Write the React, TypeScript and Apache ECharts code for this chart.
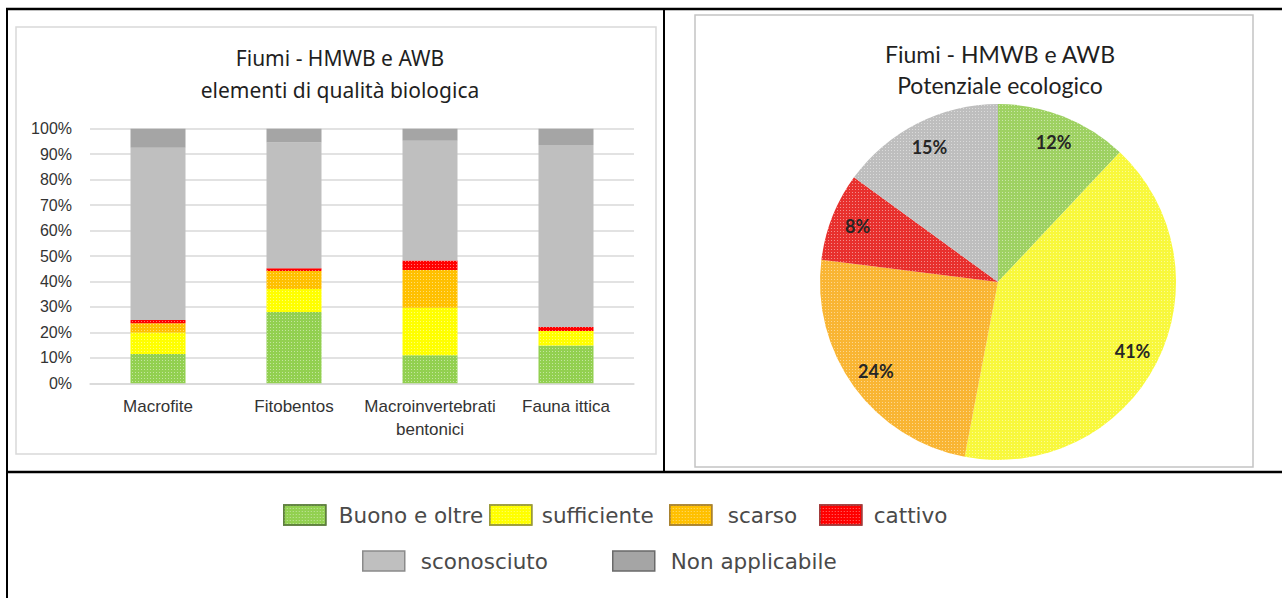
import React, { useEffect, useRef } from "react";
import * as echarts from "echarts";

// ---- Data ----
const categories = ["Macrofite", "Fitobentos", "Macroinvertebrati\nbentonici", "Fauna ittica"];
const seriesNames = ["Buono e oltre", "sufficiente", "scarso", "cattivo", "sconosciuto", "Non applicabile"];
const buono = [11.5, 28, 11, 14.8];
const sufficiente = [8.5, 9, 18.7, 5.7];
const scarso = [3.6, 7.1, 14.8, 0];
const cattivo = [1.3, 1.1, 3.7, 1.6];
const sconosciuto = [67.6, 49.4, 47.1, 71.5];
const nonApplicabile = [7.5, 5.4, 4.7, 6.4];
const barValues = [buono, sufficiente, scarso, cattivo, sconosciuto, nonApplicabile];

const yMin = 0;
const yMax = 100;
const yInterval = 10;

const pieNames = ["Buono e oltre", "sufficiente", "scarso", "cattivo", "sconosciuto"];
const pieValues = [12, 41, 24, 8, 15];

const barTitle = "Fiumi - HMWB e AWB\nelementi di qualità biologica";
const pieTitle = "Fiumi - HMWB e AWB\nPotenziale ecologico";

// ---- Styles ----
const barColors = ["#92D050", "#FFFF00", "#FFC000", "#FF0000", "#BFBFBF", "#A5A5A5"];
const pieColors = ["#9ED162", "#F8F83C", "#F9B533", "#E8302D", "#BEBEBE"];
const legendBorders = ["#5E7F3E", "#9A9A3A", "#A9822F", "#A33A3A", "#8A8A8A", "#6A6A6A"];
const dotted = [true, true, true, true, false, false];

const decal = {
  symbol: "rect",
  symbolSize: 1,
  color: "rgba(255,255,255,0.45)",
  dashArrayX: [1, 2],
  dashArrayY: [1, 2],
};

const legendLayout = [
  { left: 283, top: 504, pad: 8 },
  { left: 489, top: 504, pad: 5 },
  { left: 669, top: 504, pad: 11 },
  { left: 819, top: 504, pad: 7 },
  { left: 362, top: 550, pad: 11 },
  { left: 612, top: 550, pad: 11 },
];

export default function App() {
  const ref = useRef<HTMLDivElement>(null);

  useEffect(() => {
    if (!ref.current) return;
    const chart = echarts.init(ref.current, null, { renderer: "svg" });

    const barSeries = seriesNames.map((name, i) => ({
      name,
      type: "bar",
      stack: "total",
      barWidth: 55,
      xAxisIndex: 0,
      yAxisIndex: 0,
      data: barValues[i],
      itemStyle: {
        color: barColors[i],
        decal: dotted[i] ? decal : undefined,
      },
      emphasis: { disabled: true },
    }));

    const pieData = pieNames.map((name, i) => ({
      name,
      value: pieValues[i],
      itemStyle: { color: pieColors[i], decal },
    }));

    const pieLabelData = pieNames.map((name, i) => ({
      name,
      value: pieValues[i],
    }));

    const option: any = {
      animation: false,
      backgroundColor: "#ffffff",
      title: [
        {
          text: barTitle,
          left: 335,
          top: 37,
          textAlign: "center",
          textStyle: {
            fontFamily: "Noto Sans",
            fontSize: 21,
            fontWeight: "normal",
            color: "#1f1f1f",
            lineHeight: 32,
          },
        },
        {
          text: pieTitle,
          left: 995,
          top: 33,
          textAlign: "center",
          textStyle: {
            fontFamily: "Lato",
            fontSize: 23,
            fontWeight: "normal",
            color: "#1f1f1f",
            lineHeight: 31,
          },
        },
      ],
      legend: seriesNames.map((name, i) => ({
        left: legendLayout[i].left,
        top: legendLayout[i].top,
        padding: 0,
        orient: "horizontal",
        selectedMode: false,
        icon: "rect",
        itemWidth: 42,
        itemHeight: 20,
        data: [
          {
            name,
            itemStyle: { borderColor: legendBorders[i], borderWidth: 1.5 },
          },
        ],
        textStyle: {
          fontFamily: "DejaVu Sans",
          fontSize: 21.5,
          color: "#4a4a4a",
          padding: [0, 0, 0, legendLayout[i].pad],
        },
      })),
      grid: { left: 90, top: 128.7, width: 544, height: 254.6, containLabel: false },
      xAxis: {
        type: "category",
        data: categories,
        axisLine: { show: true, lineStyle: { color: "#d9d9d9", width: 1.5 } },
        axisTick: { show: false },
        axisLabel: {
          interval: 0,
          fontFamily: "Liberation Sans",
          fontSize: 17,
          color: "#333333",
          margin: 12,
          lineHeight: 23,
        },
      },
      yAxis: {
        type: "value",
        min: yMin,
        max: yMax,
        interval: yInterval,
        axisLine: { show: false },
        axisTick: { show: false },
        splitLine: { lineStyle: { color: "#d9d9d9", width: 1.5 } },
        axisLabel: {
          formatter: "{value}%",
          fontFamily: "Liberation Sans",
          fontSize: 16,
          color: "#333333",
          margin: 18,
        },
      },
      series: [
        ...barSeries,
        {
          type: "pie",
          name: "Potenziale ecologico",
          center: [998, 282],
          radius: [0, 178],
          startAngle: 90,
          clockwise: true,
          data: pieData,
          label: { show: false },
          labelLine: { show: false },
          emphasis: { disabled: true },
          silent: true,
        },
        {
          type: "pie",
          name: "labels",
          center: [998, 282],
          radius: [118, 178],
          startAngle: 90,
          clockwise: true,
          data: pieLabelData,
          itemStyle: { color: "rgba(0,0,0,0)" },
          label: {
            show: true,
            position: "inside",
            formatter: "{c}%",
            fontFamily: "Lato",
            fontWeight: "bold",
            fontSize: 18,
            color: "#262626",
          },
          labelLine: { show: false },
          emphasis: { disabled: true },
          silent: true,
        },
      ],
      graphic: [
        { type: "rect", shape: { x: 16, y: 27, width: 640, height: 427 }, style: { fill: "transparent", stroke: "#d9d9d9", lineWidth: 1.5 }, silent: true },
        { type: "rect", shape: { x: 695, y: 15, width: 558, height: 452 }, style: { fill: "transparent", stroke: "#c4c4c4", lineWidth: 1.5 }, silent: true },
        { type: "line", shape: { x1: 6, y1: 9, x2: 1282, y2: 9 }, style: { stroke: "#000", lineWidth: 2.5 }, silent: true },
        { type: "line", shape: { x1: 7, y1: 8, x2: 7, y2: 598 }, style: { stroke: "#000", lineWidth: 2 }, silent: true },
        { type: "line", shape: { x1: 664, y1: 8, x2: 664, y2: 472 }, style: { stroke: "#000", lineWidth: 2 }, silent: true },
        { type: "line", shape: { x1: 6, y1: 472, x2: 1282, y2: 472 }, style: { stroke: "#000", lineWidth: 2.5 }, silent: true },
      ],
    };

    chart.setOption(option);
    return () => chart.dispose();
  }, []);

  return (
    <div
      ref={ref}
      style={{ position: "absolute", left: 0, top: 0, width: 1282, height: 598 }}
    />
  );
}
